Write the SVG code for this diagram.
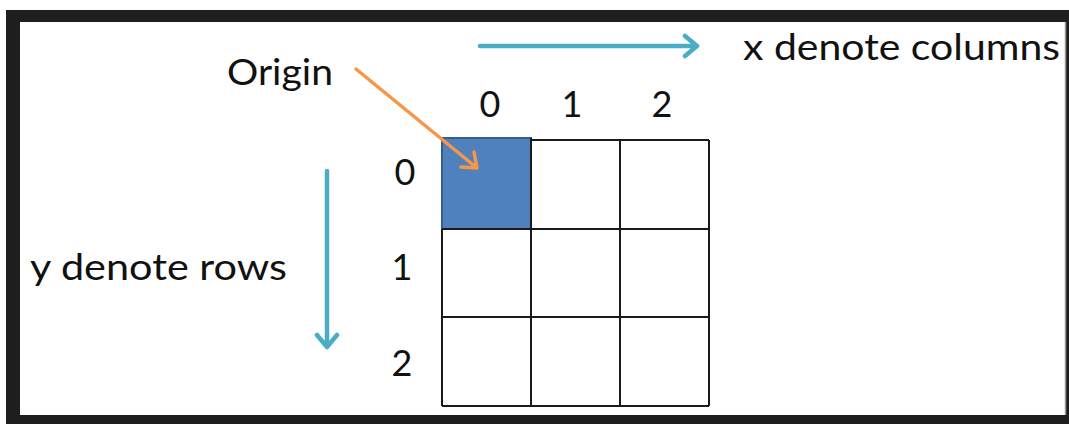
<svg xmlns="http://www.w3.org/2000/svg" width="1069" height="424" viewBox="0 0 1069 424">
<style>
.t{font-family:Lato,"Open Sans","Liberation Sans",sans-serif;font-size:36px;fill:#111}
.d{text-anchor:middle}
.grid line{stroke:#1a1a1a;stroke-width:2}
.cy{stroke:#4bacc6;stroke-width:4.5;fill:none;stroke-linecap:round;stroke-linejoin:round}
.or{stroke:#f79646;stroke-width:3.5;fill:none;stroke-linecap:round;stroke-linejoin:round}
</style>
<rect x="0" y="0" width="1069" height="424" fill="#fff"/>
<rect x="6" y="10" width="1063" height="414" fill="#1e1e1e"/>
<rect x="20" y="22" width="1046" height="393" fill="#fff"/>
<line x1="1065.5" y1="22" x2="1065.5" y2="415" stroke="#9a9a9a" stroke-width="1.5"/>
<g id="grid" class="grid">
<rect id="origin-cell" x="442" y="138" width="89" height="91" fill="#4f81bd" stroke="#385d8a" stroke-width="2"/>
<line x1="531" y1="140" x2="709" y2="140"/>
<line x1="442" y1="229" x2="709" y2="229"/>
<line x1="442" y1="317" x2="709" y2="317"/>
<line x1="442" y1="406" x2="709" y2="406"/>
<line x1="442" y1="229" x2="442" y2="406"/>
<line x1="531" y1="138" x2="531" y2="406"/>
<line x1="620" y1="140" x2="620" y2="406"/>
<line x1="709" y1="140" x2="709" y2="406"/>
</g>
<g id="labels">
<text class="t d" x="490" y="117">0</text>
<text class="t d" x="572" y="117">1</text>
<text class="t d" x="662" y="117">2</text>
<text class="t d" x="405" y="185">0</text>
<text class="t d" x="402" y="280">1</text>
<text class="t d" x="402" y="376">2</text>
</g>
<g id="origin-label"><text class="t" x="227" y="85" textLength="106" lengthAdjust="spacingAndGlyphs">Origin</text></g>
<g id="x-label"><text class="t" x="743" y="60" textLength="317" lengthAdjust="spacingAndGlyphs">x denote columns</text></g>
<g id="y-label"><text class="t" x="30" y="280" textLength="257" lengthAdjust="spacingAndGlyphs">y denote rows</text></g>
<g id="connectors">
<path class="cy" d="M480 46 H697 M685 36 L697 46 L685 56"/>
<path class="cy" d="M327 171 V347 M317 335 L327 347 L337 335"/>
<path class="or" d="M356 69 L477 168 M461 167 L477 168 L474 152"/>
</g>
</svg>
